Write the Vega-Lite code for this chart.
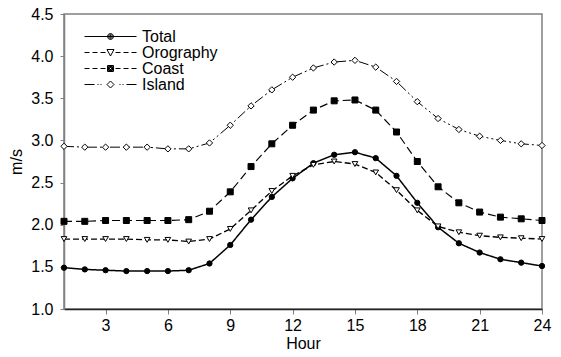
{
  "$schema": "https://vega.github.io/schema/vega-lite/v6.json",
  "width": 478,
  "height": 295,
  "autosize": "none",
  "padding": {"left": 64, "top": 14, "right": 19, "bottom": 48},
  "background": "white",
  "config": {
    "font": "Liberation Sans",
    "view": {"stroke": "#808080", "strokeWidth": 1.5},
    "axis": {
      "grid": false,
      "labelFontSize": 16,
      "labelColor": "black",
      "titleFontSize": 16,
      "titleFontWeight": "normal",
      "titleColor": "black",
      "tickColor": "#808080",
      "labelFlush": false,
      "labelOverlap": false
    }
  },
  "datasets": {
    "d": [
      {"hour": 1, "series": "Total", "speed": 1.49},
      {"hour": 2, "series": "Total", "speed": 1.47},
      {"hour": 3, "series": "Total", "speed": 1.46},
      {"hour": 4, "series": "Total", "speed": 1.45},
      {"hour": 5, "series": "Total", "speed": 1.45},
      {"hour": 6, "series": "Total", "speed": 1.45},
      {"hour": 7, "series": "Total", "speed": 1.46},
      {"hour": 8, "series": "Total", "speed": 1.54},
      {"hour": 9, "series": "Total", "speed": 1.76},
      {"hour": 10, "series": "Total", "speed": 2.06},
      {"hour": 11, "series": "Total", "speed": 2.33},
      {"hour": 12, "series": "Total", "speed": 2.55},
      {"hour": 13, "series": "Total", "speed": 2.73},
      {"hour": 14, "series": "Total", "speed": 2.83},
      {"hour": 15, "series": "Total", "speed": 2.86},
      {"hour": 16, "series": "Total", "speed": 2.79},
      {"hour": 17, "series": "Total", "speed": 2.58},
      {"hour": 18, "series": "Total", "speed": 2.26},
      {"hour": 19, "series": "Total", "speed": 1.97},
      {"hour": 20, "series": "Total", "speed": 1.78},
      {"hour": 21, "series": "Total", "speed": 1.67},
      {"hour": 22, "series": "Total", "speed": 1.59},
      {"hour": 23, "series": "Total", "speed": 1.55},
      {"hour": 24, "series": "Total", "speed": 1.51},
      {"hour": 1, "series": "Orography", "speed": 1.83},
      {"hour": 2, "series": "Orography", "speed": 1.83},
      {"hour": 3, "series": "Orography", "speed": 1.83},
      {"hour": 4, "series": "Orography", "speed": 1.83},
      {"hour": 5, "series": "Orography", "speed": 1.82},
      {"hour": 6, "series": "Orography", "speed": 1.82},
      {"hour": 7, "series": "Orography", "speed": 1.80},
      {"hour": 8, "series": "Orography", "speed": 1.83},
      {"hour": 9, "series": "Orography", "speed": 1.95},
      {"hour": 10, "series": "Orography", "speed": 2.17},
      {"hour": 11, "series": "Orography", "speed": 2.40},
      {"hour": 12, "series": "Orography", "speed": 2.58},
      {"hour": 13, "series": "Orography", "speed": 2.71},
      {"hour": 14, "series": "Orography", "speed": 2.75},
      {"hour": 15, "series": "Orography", "speed": 2.72},
      {"hour": 16, "series": "Orography", "speed": 2.62},
      {"hour": 17, "series": "Orography", "speed": 2.41},
      {"hour": 18, "series": "Orography", "speed": 2.17},
      {"hour": 19, "series": "Orography", "speed": 1.98},
      {"hour": 20, "series": "Orography", "speed": 1.91},
      {"hour": 21, "series": "Orography", "speed": 1.87},
      {"hour": 22, "series": "Orography", "speed": 1.85},
      {"hour": 23, "series": "Orography", "speed": 1.84},
      {"hour": 24, "series": "Orography", "speed": 1.83},
      {"hour": 1, "series": "Coast", "speed": 2.04},
      {"hour": 2, "series": "Coast", "speed": 2.04},
      {"hour": 3, "series": "Coast", "speed": 2.05},
      {"hour": 4, "series": "Coast", "speed": 2.05},
      {"hour": 5, "series": "Coast", "speed": 2.05},
      {"hour": 6, "series": "Coast", "speed": 2.05},
      {"hour": 7, "series": "Coast", "speed": 2.06},
      {"hour": 8, "series": "Coast", "speed": 2.16},
      {"hour": 9, "series": "Coast", "speed": 2.39},
      {"hour": 10, "series": "Coast", "speed": 2.69},
      {"hour": 11, "series": "Coast", "speed": 2.96},
      {"hour": 12, "series": "Coast", "speed": 3.18},
      {"hour": 13, "series": "Coast", "speed": 3.36},
      {"hour": 14, "series": "Coast", "speed": 3.47},
      {"hour": 15, "series": "Coast", "speed": 3.48},
      {"hour": 16, "series": "Coast", "speed": 3.36},
      {"hour": 17, "series": "Coast", "speed": 3.10},
      {"hour": 18, "series": "Coast", "speed": 2.75},
      {"hour": 19, "series": "Coast", "speed": 2.45},
      {"hour": 20, "series": "Coast", "speed": 2.26},
      {"hour": 21, "series": "Coast", "speed": 2.15},
      {"hour": 22, "series": "Coast", "speed": 2.09},
      {"hour": 23, "series": "Coast", "speed": 2.07},
      {"hour": 24, "series": "Coast", "speed": 2.05},
      {"hour": 1, "series": "Island", "speed": 2.93},
      {"hour": 2, "series": "Island", "speed": 2.92},
      {"hour": 3, "series": "Island", "speed": 2.92},
      {"hour": 4, "series": "Island", "speed": 2.92},
      {"hour": 5, "series": "Island", "speed": 2.92},
      {"hour": 6, "series": "Island", "speed": 2.90},
      {"hour": 7, "series": "Island", "speed": 2.90},
      {"hour": 8, "series": "Island", "speed": 2.97},
      {"hour": 9, "series": "Island", "speed": 3.18},
      {"hour": 10, "series": "Island", "speed": 3.41},
      {"hour": 11, "series": "Island", "speed": 3.60},
      {"hour": 12, "series": "Island", "speed": 3.75},
      {"hour": 13, "series": "Island", "speed": 3.86},
      {"hour": 14, "series": "Island", "speed": 3.93},
      {"hour": 15, "series": "Island", "speed": 3.95},
      {"hour": 16, "series": "Island", "speed": 3.87},
      {"hour": 17, "series": "Island", "speed": 3.70},
      {"hour": 18, "series": "Island", "speed": 3.46},
      {"hour": 19, "series": "Island", "speed": 3.26},
      {"hour": 20, "series": "Island", "speed": 3.13},
      {"hour": 21, "series": "Island", "speed": 3.05},
      {"hour": 22, "series": "Island", "speed": 3.00},
      {"hour": 23, "series": "Island", "speed": 2.96},
      {"hour": 24, "series": "Island", "speed": 2.94}
    ]
  },
  "data": {"name": "d"},
  "encoding": {
    "x": {
      "field": "hour",
      "type": "quantitative",
      "scale": {"domain": [1, 24], "nice": false, "zero": false},
      "axis": {
        "title": "Hour",
        "values": [3, 6, 9, 12, 15, 18, 21, 24],
        "tickSize": 5,
        "labelPadding": 3,
        "titlePadding": 2,
        "domainColor": "#222222",
        "domainWidth": 1.5
      }
    },
    "y": {
      "field": "speed",
      "type": "quantitative",
      "scale": {"domain": [1, 4.5], "nice": false, "zero": false},
      "axis": {
        "title": "m/s",
        "values": [1, 1.5, 2, 2.5, 3, 3.5, 4, 4.5],
        "format": ".1f",
        "tickSize": 4,
        "labelPadding": 7,
        "titlePadding": 6,
        "domainColor": "#808080",
        "domainWidth": 1.5
      }
    }
  },
  "resolve": {"scale": {"shape": "independent", "size": "independent"}},
  "layer": [
    {
      "mark": {"type": "line", "color": "black", "clip": true},
      "encoding": {
        "strokeDash": {
          "field": "series",
          "type": "nominal",
          "scale": {
            "domain": ["Total", "Orography", "Coast", "Island"],
            "range": [[1, 0], [6, 3], [8, 4], [10, 3, 2, 3, 2, 3]]
          },
          "legend": null
        },
        "strokeWidth": {
          "field": "series",
          "type": "nominal",
          "scale": {"domain": ["Total", "Orography", "Coast", "Island"], "range": [1.5, 1, 1, 1]},
          "legend": null
        }
      }
    },
    {
      "mark": {"type": "point", "stroke": "black", "strokeWidth": 1, "opacity": 1, "clip": false},
      "encoding": {
        "shape": {
          "field": "series",
          "type": "nominal",
          "scale": {
            "domain": ["Total", "Orography", "Coast", "Island"],
            "range": ["circle", "triangle-down", "square", "diamond"]
          },
          "legend": null
        },
        "fill": {
          "field": "series",
          "type": "nominal",
          "scale": {"domain": ["Total", "Orography", "Coast", "Island"], "range": ["black", "white", "black", "white"]},
          "legend": null
        },
        "size": {
          "field": "series",
          "type": "nominal",
          "scale": {"domain": ["Total", "Orography", "Coast", "Island"], "range": [28, 40, 30, 38]},
          "legend": null
        }
      }
    },
    {
      "transform": [{"filter": "datum.hour > 100"}],
      "mark": {"type": "point", "stroke": "black", "strokeWidth": 1, "opacity": 1},
      "encoding": {
        "shape": {
          "field": "series",
          "type": "nominal",
          "scale": {
            "domain": ["Total", "Orography", "Coast", "Island"],
            "range": [
              "M-26,0H26M-3,0A3,3 0 1,1 3,0A3,3 0 1,1 -3,0ZM-2,0A2,2 0 1,1 2,0A2,2 0 1,1 -2,0ZM-1,0A1,1 0 1,1 1,0A1,1 0 1,1 -1,0Z",
              "M-26,0H-21M-18,0H-13M-10,0H-5M5,0H10M13,0H18M21,0H26M-3.5,-3L3.5,-3L0,3.5Z",
              "M-26,0H-21M-18,0H-13M-10,0H-5M5,0H10M13,0H18M21,0H26M-3,-3H3V3H-3ZM-2,-2H2V2H-2ZM-1,-1H1V1H-1Z",
              "M-26,0H-16M-13,0H-12M-10,0H-9M9,0H10M12,0H13M16,0H26M0,-3.5L3.5,0L0,3.5L-3.5,0Z"
            ]
          },
          "legend": {
            "orient": "none",
            "legendX": 38.5,
            "legendY": 14.5,
            "title": null,
            "padding": 0,
            "symbolStrokeColor": "black",
            "symbolFillColor": "white",
            "symbolStrokeWidth": 1,
            "symbolOpacity": 1,
            "labelFontSize": 16,
            "labelColor": "black",
            "labelOffset": 23.5,
            "rowPadding": 0,
            "labelLimit": 300
          }
        },
        "size": {
          "field": "series",
          "type": "nominal",
          "scale": {"domain": ["Total", "Orography", "Coast", "Island"], "range": [4, 4, 4, 4]},
          "legend": {
            "orient": "none",
            "legendX": 38.5,
            "legendY": 14.5,
            "title": null,
            "padding": 0,
            "symbolFillColor": "white",
            "labelFontSize": 16,
            "labelColor": "black",
            "labelOffset": 23.5,
            "rowPadding": 0
          }
        }
      }
    }
  ]
}
